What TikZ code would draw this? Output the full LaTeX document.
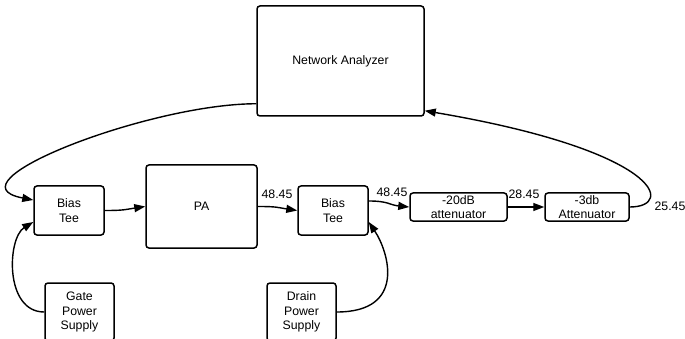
\documentclass[tikz,border=0pt]{standalone}
\usepackage{fontspec}
\setmainfont{Liberation Sans}
\usetikzlibrary{arrows.meta}
\tikzset{
  box/.style={draw,line width=1.5pt,rounded corners=3pt,align=center,inner sep=0pt,font=\fontsize{12.3}{14.5}\selectfont},
  link/.style={line width=1.4pt,-{Triangle[length=11pt,width=8pt]}},
  val/.style={inner sep=0pt,font=\fontsize{12.3}{14.5}\selectfont}
}
\begin{document}
\begin{tikzpicture}[x=1pt,y=-1pt]
  \useasboundingbox (0,0) rectangle (685,339);
  \node[box,minimum width=167pt,minimum height=110pt] (na) at (340.5,61) {Network Analyzer};
  \node[box,minimum width=70pt,minimum height=49pt] (bt1) at (69,210.5) {Bias\\Tee};
  \node[box,minimum width=111pt,minimum height=83pt] (pa) at (201.5,206.5) {PA};
  \node[box,minimum width=70pt,minimum height=49pt] (bt2) at (333,210.5) {Bias\\Tee};
  \node[box,minimum width=97pt,minimum height=28pt] (att20) at (458.5,207) {-20dB\\attenuator};
  \node[box,minimum width=84pt,minimum height=28pt] (att3) at (587,207) {-3db\\Attenuator};
  \node[box,minimum width=69pt,minimum height=58pt] (gps) at (79.5,312) {Gate\\Power\\Supply};
  \node[box,minimum width=69pt,minimum height=58pt] (dps) at (301.5,312) {Drain\\Power\\Supply};
  \node[val] (v1) at (277,194) {48.45};
  \node[val] (v2) at (392,192) {48.45};
  \node[val] (v3) at (524,194) {28.45};
  \node[val] (v4) at (670,206) {25.45};
  \draw[link] ([yshift=13pt]na.south west) .. controls +(-107,0) and +(-89,-17) .. ([yshift=10.5pt]bt1.west);
  \draw[link] (gps.west) .. controls +(-40,0) and +(-26,16) .. ([yshift=-11.5pt]bt1.west);
  \draw[link] (dps.east) .. controls +(70,0) and +(20,30) .. ([yshift=-11.5pt]bt2.east);
  \draw[link] (bt1.east) .. controls +(20,0) and +(-20,3) .. (pa.west);
  \draw[link] (pa.east) .. controls +(20,0) and +(-20,-3) .. (bt2.west);
  \draw[link] ([yshift=9.5pt]bt2.east) .. controls +(20,0) and +(-20,-2) .. (att20.west);
  \draw[link] (att20.east) -- (att3.west);
  \draw[link] (att3.east) .. controls +(46,0) and +(236,40) .. ([yshift=6pt]na.south east);
\end{tikzpicture}
\end{document}
